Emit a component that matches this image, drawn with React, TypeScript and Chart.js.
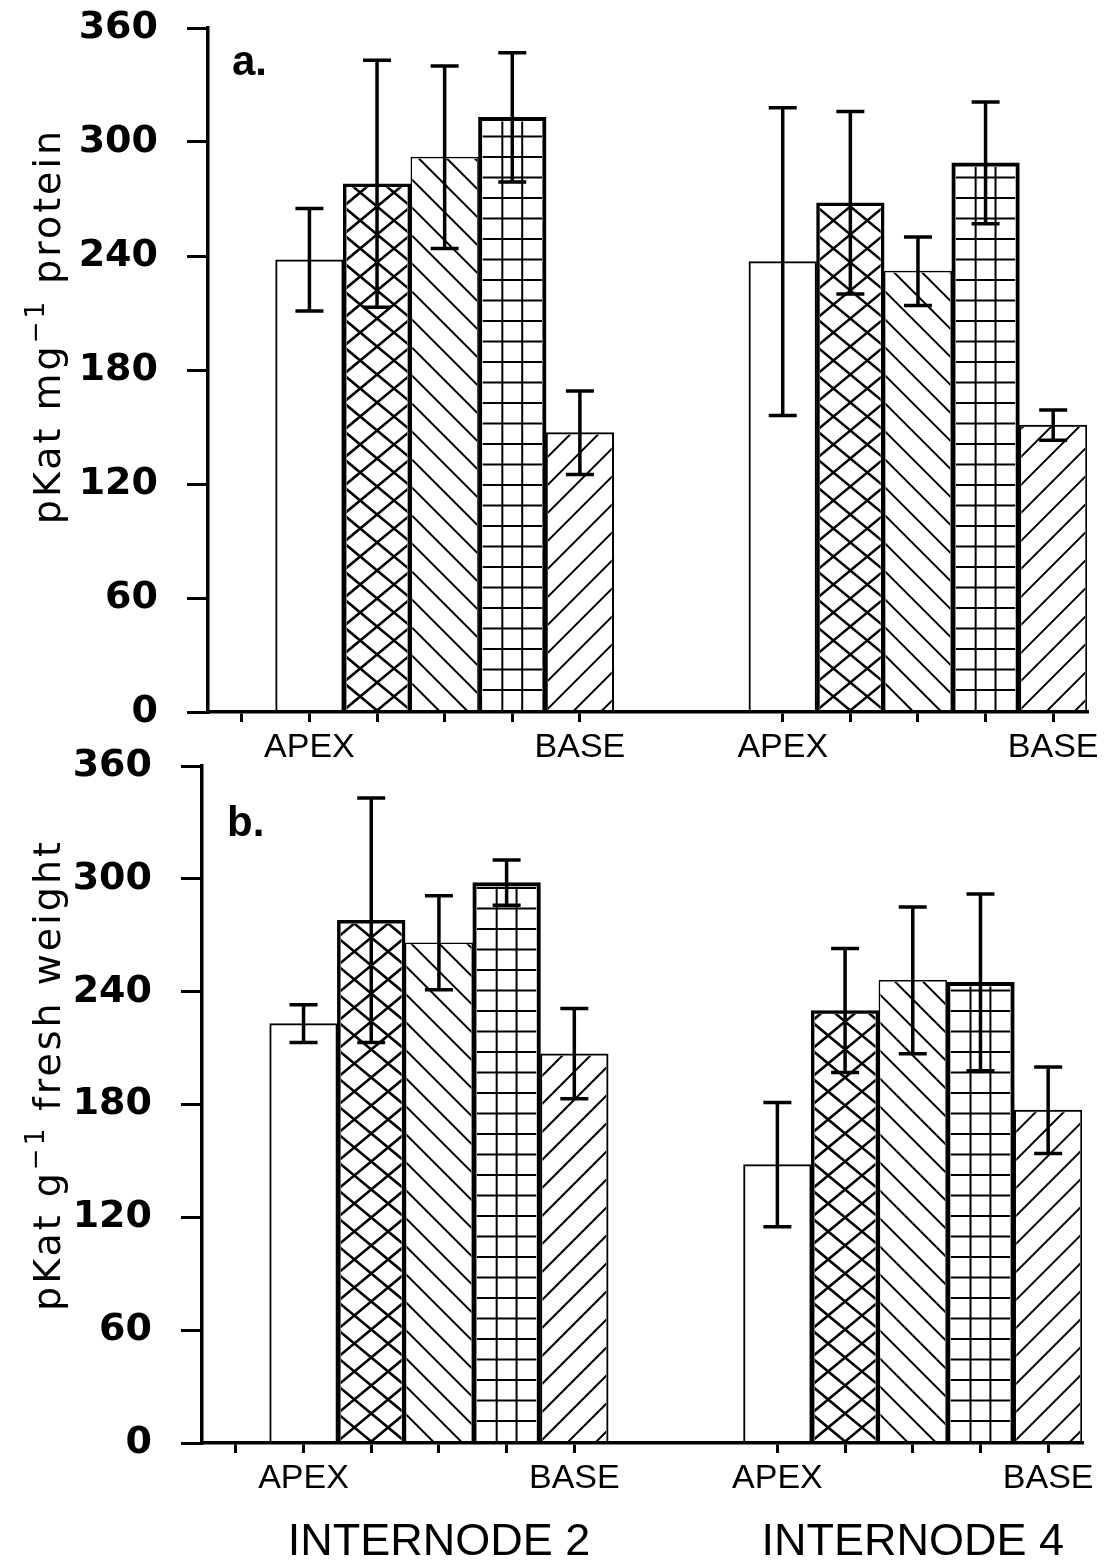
import { useEffect, useRef } from 'react';
import { Chart, registerables } from 'chart.js';

Chart.register(...registerables);

// Category slots along the x axis: one empty slot, five positions of internode 2,
// two empty slots, five positions of internode 4.
const tickLabels = ['', 'APEX', '', '', '', 'BASE', '', '', 'APEX', '', '', '', 'BASE'];
const groupTitles = ['INTERNODE 2', 'INTERNODE 4'];
const groupTitleSlots = [3, 10];
const yMax = 360;
const yStep = 60;

// a. activity per mg protein (mean, ± error)
const proteinInternode2 = [238, 278, 292, 313, 147];
const proteinInternode2Err = [27, 65, 48, 34, 22];
const proteinInternode4 = [237, 268, 232, 289, 151];
const proteinInternode4Err = [81, 48, 18, 32, 8];

// b. activity per g fresh weight (mean, ± error)
const freshInternode2 = [223, 278, 266, 298, 207];
const freshInternode2Err = [10, 65, 25, 12, 24];
const freshInternode4 = [148, 230, 246, 245, 177];
const freshInternode4Err = [33, 33, 39, 47, 23];

// fill style and outline weight of the five positions, apex to base
const barHatches = ['none', 'cross', 'back', 'grid', 'fwd'];
const barBorders = [2, 3.5, 1.5, 4, 2];

const SANS = '"DejaVu Sans", sans-serif';
const HELV = '"Liberation Sans", Arial, sans-serif';

function slots<T>(g2: T[], g4: T[]): (T | null)[] {
  return [null, ...g2, null, null, ...g4];
}

function drawHatch(
  ctx: CanvasRenderingContext2D,
  kind: string,
  l: number,
  r: number,
  top: number,
  base: number,
  bw: number
) {
  if (!kind || kind === 'none') return;
  const il = l + bw;
  const ir = r - bw;
  const it = top + bw;
  if (ir <= il || base <= it) return;
  ctx.save();
  ctx.beginPath();
  ctx.rect(il, it, ir - il, base - it);
  ctx.clip();
  ctx.strokeStyle = '#000';
  ctx.lineCap = 'butt';
  ctx.beginPath();
  const w = r - l;
  const h = base - top;
  if (kind === 'grid') {
    ctx.lineWidth = 2;
    for (let k = 1; k < 3; k++) {
      const gx = il + ((ir - il) * k) / 3;
      ctx.moveTo(gx, it);
      ctx.lineTo(gx, base);
    }
    for (let gy = base - 20.5; gy > it; gy -= 20.5) {
      ctx.moveTo(il, gy);
      ctx.lineTo(ir, gy);
    }
  } else {
    const px = kind === 'cross' ? w / 2 : 28;
    const py = 28;
    const rise = (w * py) / px;
    ctx.lineWidth = kind === 'cross' ? 2.6 : 2;
    const kMin = -Math.ceil(rise / py) - 2;
    const kMax = Math.ceil((h + rise) / py) + 2;
    for (let k = kMin; k <= kMax; k++) {
      const y0 = base - k * py;
      if (kind === 'back' || kind === 'cross') {
        ctx.moveTo(l, y0);
        ctx.lineTo(r, y0 + rise);
      }
      if (kind === 'fwd' || kind === 'cross') {
        ctx.moveTo(l, y0);
        ctx.lineTo(r, y0 - rise);
      }
    }
  }
  ctx.stroke();
  ctx.restore();
}

interface PanelSpec {
  means: (number | null)[];
  errors: (number | null)[];
  yAxisWidth: number;
  xAxisHeight: number;
  padTop: number;
  padRight: number;
  letter: string;
  letterX: number;
  letterY: number;
  titleParts: [string, boolean][];
  titleX: number;
  titleCenterY: number;
  groupTitleBaseline?: number;
}

function makeConfig(spec: PanelSpec): any {
  const hatches = slots(barHatches, barHatches);
  const borders = slots(barBorders, barBorders).map((b) => b ?? 0);

  const marksPlugin = {
    id: 'hatchAndErrors',
    afterDatasetsDraw(chart: any) {
      const ctx: CanvasRenderingContext2D = chart.ctx;
      const meta = chart.getDatasetMeta(0);
      const yScale = chart.scales.y;
      meta.data.forEach((el: any, i: number) => {
        const v = spec.means[i];
        if (v == null) return;
        const p = el.getProps(['x', 'y', 'base', 'width'], true);
        drawHatch(ctx, hatches[i] as string, p.x - p.width / 2, p.x + p.width / 2, p.y, p.base, borders[i]);
      });
      ctx.save();
      ctx.strokeStyle = '#000';
      ctx.lineWidth = 3.5;
      ctx.lineCap = 'butt';
      meta.data.forEach((el: any, i: number) => {
        const v = spec.means[i];
        const e = spec.errors[i];
        if (v == null || e == null) return;
        const { x } = el.getProps(['x'], true);
        const yTop = yScale.getPixelForValue(v + e);
        const yBot = yScale.getPixelForValue(v - e);
        ctx.beginPath();
        ctx.moveTo(x, yTop);
        ctx.lineTo(x, yBot);
        ctx.moveTo(x - 14, yTop);
        ctx.lineTo(x + 14, yTop);
        ctx.moveTo(x - 14, yBot);
        ctx.lineTo(x + 14, yBot);
        ctx.stroke();
      });
      ctx.restore();
    },
  };

  const textPlugin = {
    id: 'panelText',
    afterDraw(chart: any) {
      const ctx: CanvasRenderingContext2D = chart.ctx;
      ctx.save();
      ctx.fillStyle = '#000';
      ctx.textAlign = 'left';
      ctx.textBaseline = 'alphabetic';
      ctx.font = `bold 42px ${HELV}`;
      ctx.fillText(spec.letter, spec.letterX, spec.letterY);

      // rotated y-axis title with a superscript
      ctx.save();
      ctx.translate(spec.titleX, spec.titleCenterY);
      ctx.rotate(-Math.PI / 2);
      (ctx as any).letterSpacing = '3px';
      const parts = spec.titleParts.map(([text, sup]) => {
        ctx.font = sup ? `26px ${SANS}` : `38px ${SANS}`;
        return { text, sup, w: ctx.measureText(text).width };
      });
      const total = parts.reduce((s, p) => s + p.w, 0);
      let cx = -total / 2;
      parts.forEach((p) => {
        ctx.font = p.sup ? `26px ${SANS}` : `38px ${SANS}`;
        ctx.fillText(p.text, cx, p.sup ? -16 : 0);
        cx += p.w;
      });
      ctx.restore();

      if (spec.groupTitleBaseline != null) {
        const xScale = chart.scales.x;
        ctx.font = `45px ${HELV}`;
        ctx.textAlign = 'center';
        groupTitles.forEach((t, i) => {
          ctx.fillText(t, xScale.getPixelForValue(groupTitleSlots[i]), spec.groupTitleBaseline as number);
        });
      }
      ctx.restore();
    },
  };

  return {
    type: 'bar',
    data: {
      labels: tickLabels,
      datasets: [
        {
          data: spec.means,
          backgroundColor: '#ffffff',
          borderColor: '#000000',
          borderWidth: borders,
          borderSkipped: 'start',
          barPercentage: 1,
          categoryPercentage: 1,
        },
      ],
    },
    options: {
      animation: false,
      responsive: false,
      devicePixelRatio: 1,
      layout: { padding: { top: spec.padTop, right: spec.padRight, left: 0, bottom: 0 } },
      plugins: { legend: { display: false }, tooltip: { enabled: false } },
      scales: {
        x: {
          type: 'category',
          offset: true,
          grid: {
            display: true,
            drawOnChartArea: false,
            drawTicks: true,
            tickLength: 10,
            lineWidth: 3,
            offset: false,
            color: '#000',
            tickColor: (c: any) => (c.index === 6 || c.index === 7 ? 'rgba(0,0,0,0)' : '#000'),
          },
          border: { display: true, color: '#000', width: 3.5, z: 1 },
          ticks: {
            autoSkip: false,
            maxRotation: 0,
            minRotation: 0,
            padding: 5,
            color: '#000',
            font: { family: HELV, size: 34 },
          },
          afterFit: (s: any) => {
            s.height = spec.xAxisHeight;
          },
        },
        y: {
          min: 0,
          max: yMax,
          ticks: {
            stepSize: yStep,
            padding: 29,
            color: '#000',
            font: { family: SANS, size: 38, weight: 'bold' },
          },
          grid: { drawOnChartArea: false, drawTicks: true, tickLength: 21, lineWidth: 3, color: '#000' },
          border: { display: true, color: '#000', width: 3.5 },
          afterFit: (s: any) => {
            s.width = spec.yAxisWidth;
            // the layout padding already leaves room for the end labels
            s.paddingTop = 0;
            s.paddingBottom = 0;
          },
        },
      },
    },
    plugins: [marksPlugin, textPlugin],
  };
}

export default function App() {
  const refA = useRef<HTMLCanvasElement>(null);
  const refB = useRef<HTMLCanvasElement>(null);

  useEffect(() => {
    const chartA = new Chart(
      refA.current as HTMLCanvasElement,
      makeConfig({
        means: slots(proteinInternode2, proteinInternode4),
        errors: slots(proteinInternode2Err, proteinInternode4Err),
        yAxisWidth: 208,
        xAxisHeight: 78,
        padTop: 28,
        padRight: 24,
        letter: 'a.',
        letterX: 232,
        letterY: 75,
        titleParts: [
          ['pKat mg', false],
          ['\u22121', true],
          [' protein', false],
        ],
        titleX: 60,
        titleCenterY: 326,
      })
    );
    const chartB = new Chart(
      refB.current as HTMLCanvasElement,
      makeConfig({
        means: slots(freshInternode2, freshInternode4),
        errors: slots(freshInternode2Err, freshInternode4Err),
        yAxisWidth: 202,
        xAxisHeight: 120,
        padTop: 26,
        padRight: 29,
        letter: 'b.',
        letterX: 227,
        letterY: 96,
        titleParts: [
          ['pKat g', false],
          ['\u22121', true],
          [' fresh weight', false],
        ],
        titleX: 60,
        titleCenterY: 335,
        groupTitleBaseline: 815,
      })
    );
    return () => {
      chartA.destroy();
      chartB.destroy();
    };
  }, []);

  return (
    <div
      style={{
        position: 'absolute',
        left: 0,
        top: 0,
        width: 1111,
        height: 1563,
        background: '#ffffff',
        overflow: 'hidden',
      }}
    >
      <canvas
        ref={refA}
        width={1111}
        height={790}
        style={{ position: 'absolute', left: 0, top: 0, width: 1111, height: 790 }}
      />
      <canvas
        ref={refB}
        width={1111}
        height={823}
        style={{ position: 'absolute', left: 0, top: 740, width: 1111, height: 823 }}
      />
    </div>
  );
}
